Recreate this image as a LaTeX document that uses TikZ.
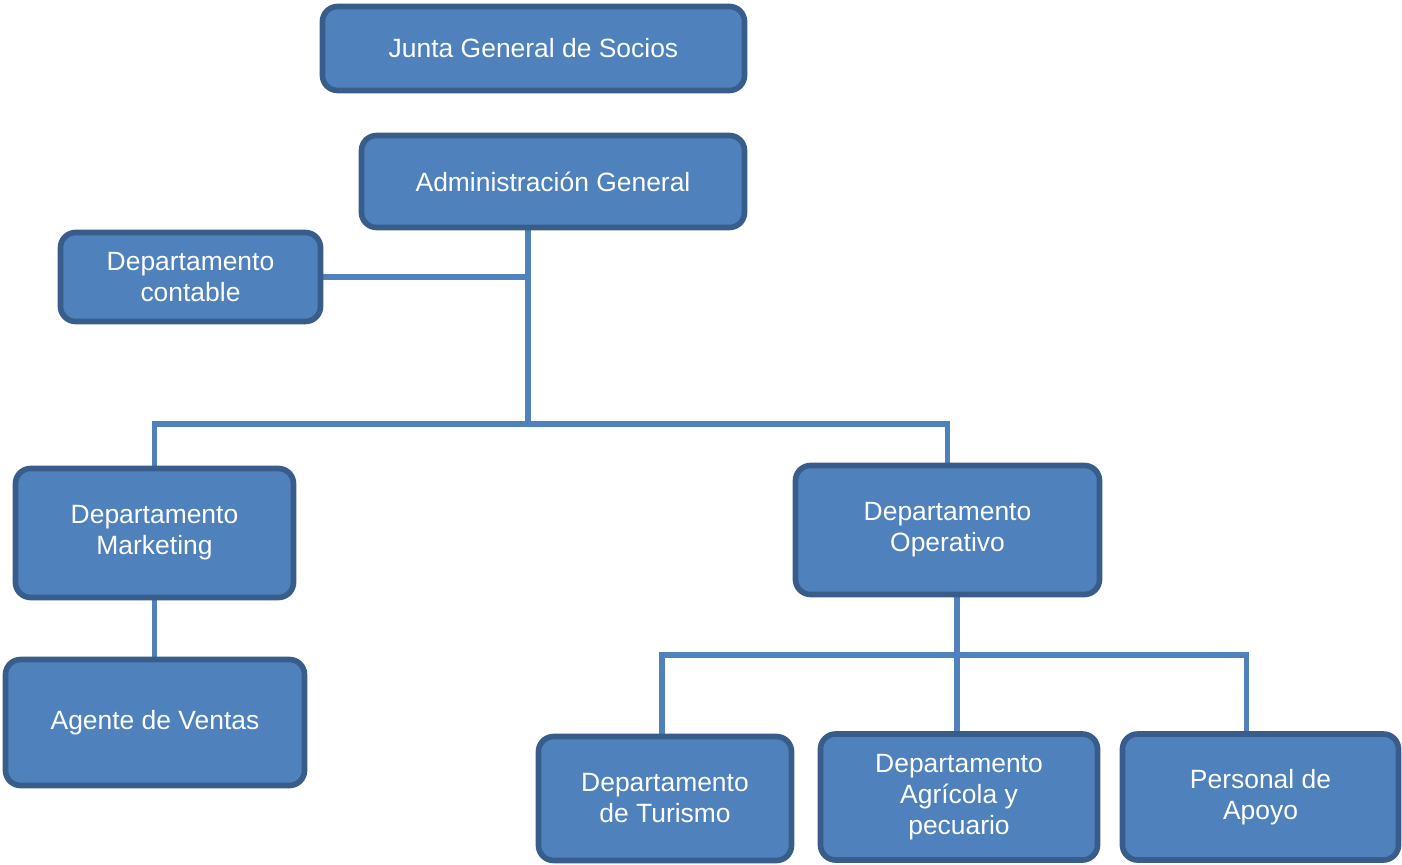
\documentclass[tikz,border=0pt]{standalone}
\usepackage{fontspec}
\setmainfont{Liberation Sans}
\usetikzlibrary{backgrounds}
\definecolor{boxfill}{HTML}{4F81BD}
\definecolor{boxline}{HTML}{385D8A}

\tikzset{
  unit/.style={rounded corners=0.38cm, draw=boxline, fill=boxfill,
    line width=4pt, text=white, align=center, inner sep=0pt,
    font=\fontsize{18.8}{22}\selectfont},
  link/.style={draw=boxfill, line width=3.6pt}
}

\begin{document}
\begin{tikzpicture}[x=0.025cm, y=-0.025cm]
    \useasboundingbox (0,0) rectangle (1402,865);
    % boxes
    \node[unit, minimum width=10.55cm, minimum height=2.1cm] (junta) at (533.5,48.5) {Junta General de Socios};
    \node[unit, minimum width=9.575cm, minimum height=2.3cm] (admin) at (553,181.5) {Administración General};
    \node[unit, minimum width=6.5cm, minimum height=2.225cm] (contable) at (190.5,277) {Departamento\\contable};
    \node[unit, minimum width=6.95cm, minimum height=3.225cm] (marketing) at (154.5,533) {Departamento\\Marketing};
    \node[unit, minimum width=7.475cm, minimum height=3.15cm] (agente) at (155,722.5) {Agente de Ventas};
    \node[unit, minimum width=7.6cm, minimum height=3.225cm] (operativo) at (947.5,530) {Departamento\\Operativo};
    \node[unit, minimum width=6.325cm, minimum height=3.1cm] (turismo) at (665,798.5) {Departamento\\de Turismo};
    \node[unit, minimum width=6.925cm, minimum height=3.15cm] (agricola) at (959,797) {Departamento\\Agrícola y\\pecuario};
    \node[unit, minimum width=6.9cm, minimum height=3.15cm] (apoyo) at (1260.5,797) {Personal de\\Apoyo};
    % branch points
    \coordinate (hub) at (528,424);
    \coordinate (ophub) at (957,655);
    % connectors
    \begin{scope}[on background layer]
      \draw[link] (admin.south -| hub) -- (hub);
      \draw[link] (contable.east) -- (contable.east -| hub);
      \draw[link] (marketing.north) |- (hub) -| (operativo.north);
      \draw[link] (marketing.south) -- (marketing.south |- agente.north);
      \draw[link] (operativo.south -| ophub) -- (ophub);
      \draw[link] ([xshift=-0.075cm]turismo.north) |- (ophub) -| ([xshift=-0.35cm]apoyo.north);
      \draw[link] (ophub) -- (ophub |- agricola.north);
    \end{scope}
\end{tikzpicture}
\end{document}
